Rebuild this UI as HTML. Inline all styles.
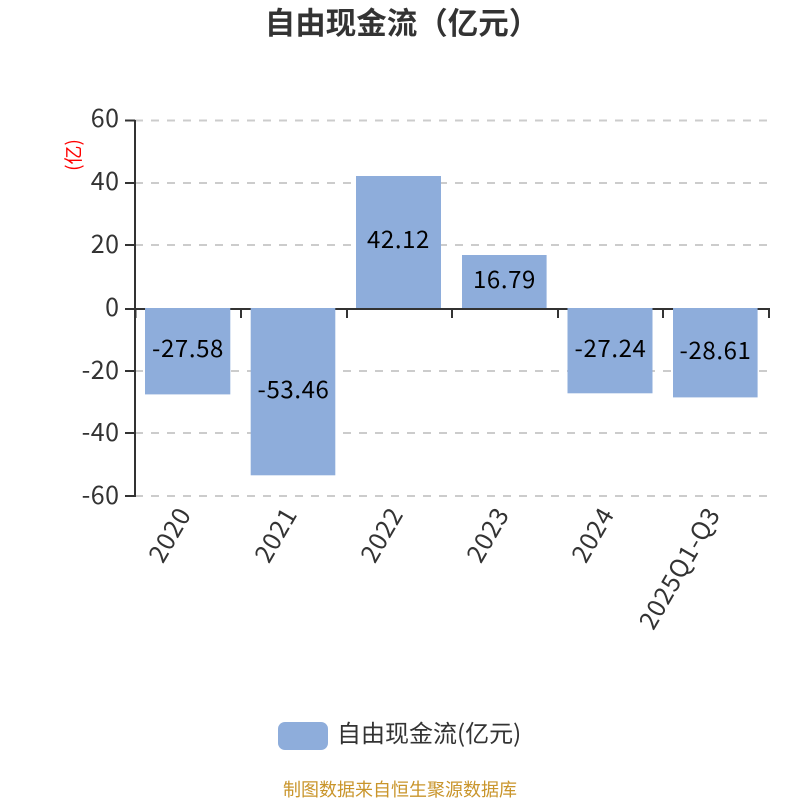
<!DOCTYPE html>
<html><head><meta charset="utf-8"><style>
html,body{margin:0;padding:0;background:#fff}
svg{display:block}
text{font-family:"Noto Sans CJK SC","Liberation Sans",sans-serif}
</style></head><body>
<svg width="800" height="800" viewBox="0 0 800 800" xmlns="http://www.w3.org/2000/svg">
<text x="402" y="34" font-size="30.500" font-weight="700" fill="#333" text-anchor="middle">自由现金流（亿元）</text>
<g stroke="#ccc" stroke-width="2" stroke-dasharray="8 8">
<line x1="135" y1="120.500" x2="769" y2="120.500"/>
<line x1="135" y1="183" x2="769" y2="183"/>
<line x1="135" y1="245" x2="769" y2="245"/>
<line x1="135" y1="371" x2="769" y2="371"/>
<line x1="135" y1="433" x2="769" y2="433"/>
<line x1="135" y1="496" x2="769" y2="496"/>
</g>
<g stroke="#333" stroke-width="2" fill="none">
<line x1="135" y1="120" x2="135" y2="497"/>
<line x1="125" y1="120.500" x2="135" y2="120.500"/>
<line x1="125" y1="183" x2="135" y2="183"/>
<line x1="125" y1="245" x2="135" y2="245"/>
<line x1="125" y1="309" x2="135" y2="309"/>
<line x1="125" y1="371" x2="135" y2="371"/>
<line x1="125" y1="433" x2="135" y2="433"/>
<line x1="125" y1="496" x2="135" y2="496"/>
<line x1="135" y1="309" x2="770" y2="309"/>
<line x1="135.500" y1="308" x2="135.500" y2="318"/>
<line x1="241" y1="308" x2="241" y2="318"/>
<line x1="347" y1="308" x2="347" y2="318"/>
<line x1="452" y1="308" x2="452" y2="318"/>
<line x1="558" y1="308" x2="558" y2="318"/>
<line x1="663" y1="308" x2="663" y2="318"/>
<line x1="769" y1="308" x2="769" y2="318"/>
</g>
<g fill="#8eaddb">
<rect x="145" y="308" width="85.300" height="86.400"/>
<rect x="250.700" y="308" width="84.600" height="167.300"/>
<rect x="356" y="176" width="85" height="132"/>
<rect x="462" y="255" width="84.600" height="53"/>
<rect x="567.500" y="308" width="85" height="85.300"/>
<rect x="673" y="308" width="84.600" height="89.400"/>
</g>
<g font-size="25" fill="#333" text-anchor="end" letter-spacing="0.500">
<text x="119.500" y="127">60</text>
<text x="119.500" y="190">40</text>
<text x="119.500" y="253">20</text>
<text x="119.500" y="316">0</text>
<text x="119.500" y="379">-20</text>
<text x="119.500" y="441">-40</text>
<text x="119.500" y="504">-60</text>
</g>
<text transform="translate(80,155) rotate(-90)" font-size="19" fill="#f00" text-anchor="middle">(亿)</text>
<g font-size="24" fill="#000" text-anchor="middle" letter-spacing="0.600">
<text x="188" y="357">-27.58</text>
<text x="293.500" y="398">-53.46</text>
<text x="398.500" y="248">42.12</text>
<text x="504.500" y="288">16.79</text>
<text x="610.500" y="357">-27.24</text>
<text x="715.500" y="359">-28.61</text>
</g>
<g font-size="25" fill="#333" text-anchor="end" letter-spacing="0.700">
<text transform="translate(192,514) rotate(-60)" x="0" y="0">2020</text>
<text transform="translate(298,514) rotate(-60)" x="0" y="0">2021</text>
<text transform="translate(404,514) rotate(-60)" x="0" y="0">2022</text>
<text transform="translate(510,514) rotate(-60)" x="0" y="0">2023</text>
<text transform="translate(615,514) rotate(-60)" x="0" y="0">2024</text>
<text transform="translate(721,514) rotate(-60)" x="0" y="0">2025Q1-Q3</text>
</g>
<rect x="278" y="722" width="50" height="28" rx="7" fill="#8eaddb"/>
<text x="337" y="742" font-size="24" fill="#333">自由现金流(亿元)</text>
<text x="400" y="796" font-size="18" fill="#c9952b" text-anchor="middle">制图数据来自恒生聚源数据库</text>
</svg>
</body></html>
